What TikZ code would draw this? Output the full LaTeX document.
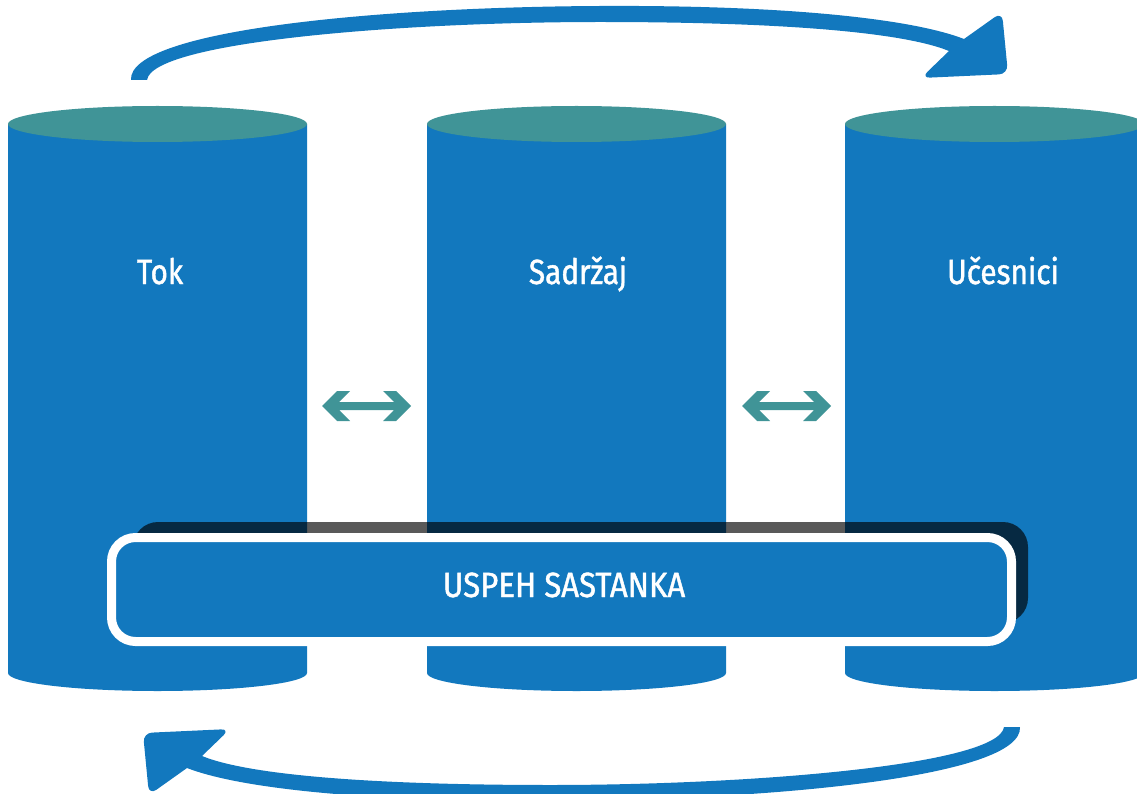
\documentclass[tikz,border=0pt]{standalone}
\usepackage{fontspec}
\newfontfamily\lblfont{Fira Sans}[FakeStretch=0.85,FakeBold=1.2]
\newfontfamily\boxfont{Fira Sans}[FakeStretch=0.89,FakeBold=1.2]
\definecolor{cylblue}{RGB}{18,120,190}
\definecolor{cylteal}{RGB}{64,148,151}
\begin{document}
\begin{tikzpicture}[x=1pt,y=-1pt,
  cyl/.style={fill=cylblue},
  cyltop/.style={fill=cylteal},
  lbl/.style={text=white,font=\lblfont\fontsize{35}{40}\selectfont,anchor=base,inner sep=0pt},
  dblarrow/.pic={\fill[cylteal] (0,0) -- (15,-15) -- (28,-15) -- (17,-4) -- (72,-4) -- (61,-15) -- (74,-15) -- (89,0) -- (74,15) -- (61,15) -- (72,4) -- (17,4) -- (28,15) -- (15,15) -- cycle;},
  bigarrow/.style={fill=cylblue}
]
\useasboundingbox (0,0) rectangle (1137,794);
\clip (0,0) rectangle (1137,794);
% cylinders
\foreach \x/\n in {8/a,427/b,845/c}{
  \fill[cyl] (\x,124) -- (\x,673) arc[start angle=180,end angle=360,x radius=149.5,y radius=-18] -- (\x+299,124) -- cycle;
  \fill[cyltop] (\x+149.5,124) ellipse[x radius=149.5,y radius=18];
}
% labels
\node[lbl] (tok) at (160,284) {Tok};
\node[lbl] (sad) at (578,284) {Sadržaj};
\node[lbl] (uce) at (1003,284) {Učesnici};
% double arrows
\pic (da1) at (322,406) {dblarrow};
\pic (da2) at (742,406) {dblarrow};
% shadow
\fill[black,opacity=0.65,rounded corners=25] (133,522) rectangle (1028,623);
% main box
\draw[white,line width=9,fill=cylblue,rounded corners=24] (111.5,537.5) rectangle (1011.5,641.5);
\node[lbl,font=\boxfont\fontsize{35}{40}\selectfont] (usp) at (564,597) {USPEH SASTANKA};
% curved arrows
\foreach \r in {0,180}{
\begin{scope}[rotate around={\r:(575.5,403.5)}]
\fill[bigarrow] (131,80) .. controls (128,30) and (380,7) .. (600,6)
  .. controls (780,5) and (910,18) .. (964,39)
  [rounded corners=9] -- (1002,12) -- (1008,74) -- (921,78) [sharp corners] -- (949,51)
  .. controls (900,31) and (770,22) .. (600,22)
  .. controls (400,22) and (152,42) .. (147,80) -- cycle;
\end{scope}
}
\end{tikzpicture}
\end{document}
